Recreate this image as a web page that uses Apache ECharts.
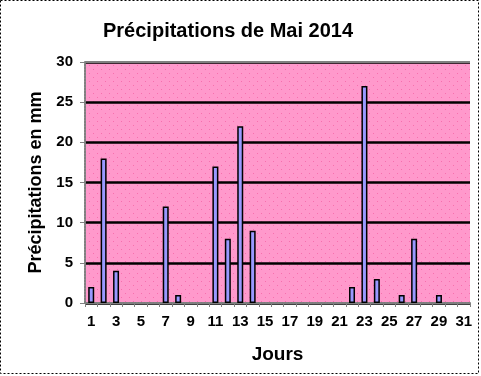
<!DOCTYPE html>
<html>
<head>
<meta charset="utf-8">
<script src="https://cdn.jsdelivr.net/npm/echarts@6/dist/echarts.min.js"></script>
<style>
  html, body { margin: 0; padding: 0; background: #fff; }
  #box { width: 481px; height: 376px; }
</style>
</head>
<body>
<div id="box"></div>
<script>
// jours du mois de mai
const days = [];
for (let d = 1; d <= 31; d++) days.push(String(d));

// précipitations en mm
const rain = [2, 18, 4, 0, 0, 0, 12, 1, 0, 0, 17, 8, 22, 9, 0, 0, 0, 0, 0, 0, 0, 2, 27, 3, 0, 1, 8, 0, 1, 0, 0];

const yTicks = [0, 5, 10, 15, 20, 25, 30];

// petit motif pointillé rose pour le fond
const pat = document.createElement('canvas');
pat.width = 8; pat.height = 8;
const pc = pat.getContext('2d');
pc.fillStyle = '#ff99cc';
pc.fillRect(0, 0, 8, 8);
pc.fillStyle = '#f76fae';
pc.fillRect(1, 1, 1, 1);
pc.fillRect(5, 5, 1, 1);

const chart = echarts.init(document.getElementById('box'));

chart.setOption({
    animation: false,
    title: {
        text: 'Précipitations de Mai 2014',
        left: 98,
        top: 16,
        textStyle: { fontFamily: 'Liberation Sans', fontWeight: 'bold', fontSize: 20, color: '#000' }
    },
    grid: {
        left: 85, right: 11, top: 62, bottom: 73,
        show: true,
        backgroundColor: { image: pat, repeat: 'repeat' },
        borderWidth: 0
    },
    xAxis: {
        type: 'category',
        data: days,
        name: 'Jours',
        nameLocation: 'middle',
        nameGap: 42,
        nameTextStyle: { fontFamily: 'Liberation Sans', fontWeight: 'bold', fontSize: 19, color: '#000' },
        axisLine: { lineStyle: { color: '#808080', width: 2, type: [2, 1] } },
        axisTick: { show: true, interval: 0, length: 4, lineStyle: { color: '#808080' } },
        axisLabel: {
            interval: 1,
            margin: 11,
            fontFamily: 'Liberation Sans', fontWeight: 'bold', fontSize: 15, color: '#000'
        }
    },
    yAxis: {
        type: 'value',
        min: yTicks[0],
        max: yTicks[yTicks.length - 1],
        interval: 5,
        name: 'Précipitations en mm',
        nameLocation: 'middle',
        nameGap: 36,
        nameTextStyle: { fontFamily: 'Liberation Sans', fontWeight: 'bold', fontSize: 18, color: '#000' },
        axisLine: { show: true, lineStyle: { color: '#808080', width: 2, type: [2, 1] } },
        axisTick: { show: true, length: 5, lineStyle: { color: '#808080' } },
        axisLabel: { margin: 12, fontFamily: 'Liberation Sans', fontWeight: 'bold', fontSize: 15, color: '#000' },
        splitLine: { lineStyle: { color: '#000', width: 2.5 } }
    },
    series: [
        {
            name: 'Précipitations',
            type: 'bar',
            // les jours sans pluie ne dessinent rien
            data: rain.map(v => (v === 0 ? null : v)),
            barWidth: 6,
            itemStyle: { color: '#9999ff', borderColor: '#000', borderWidth: 1.5 }
        }
    ],
    graphic: [
        {
            type: 'rect',
            shape: { x: 85, y: 61, width: 385, height: 2 },
            style: { fill: '#808080' },
            z: 10
        },
        {
            type: 'rect',
            shape: { x: 0.5, y: 0.5, width: 478, height: 373 },
            style: { fill: null, stroke: '#000', lineWidth: 1, lineDash: [2, 2] },
            silent: true
        }
    ]
});
</script>
</body>
</html>
